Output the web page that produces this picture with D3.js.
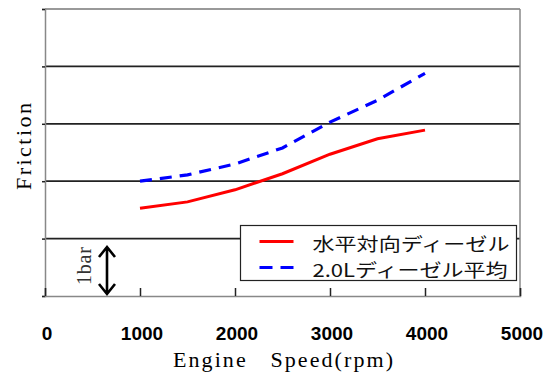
<!DOCTYPE html>
<html>
<head>
<meta charset="utf-8">
<script src="https://cdn.jsdelivr.net/npm/d3@7"></script>
<style>
  body { margin: 0; background: #fff; }
</style>
</head>
<body>
<div id="viz"></div>
<script>
const rpm = [1000, 1500, 2000, 2500, 3000, 3500, 4000];
const boxer = [1.53, 1.64, 1.85, 2.13, 2.47, 2.74, 2.89];
const avg20 = [2.0, 2.11, 2.30, 2.58, 3.03, 3.41, 3.88];
const xTicks = [0, 1000, 2000, 3000, 4000, 5000];
const yTicks = [0, 1, 2, 3, 4, 5];
const seriesNames = ["水平対向ディーゼル", "2.0Lディーゼル平均"];

const width = 551, height = 372;
const margin = {top: 9, right: 31, bottom: 76, left: 45};

const svg = d3.select("#viz")
  .append("svg")
  .attr("width", width)
  .attr("height", height);

const x = d3.scaleLinear().domain([0, 5000]).range([margin.left, width - margin.right]);
const y = d3.scaleLinear().domain([0, 5]).range([height - margin.bottom, margin.top]);

// grid lines
svg.append("g")
  .selectAll("line")
  .data(yTicks.slice(1, 5))
  .join("line")
  .attr("x1", x(0)).attr("x2", x(5000))
  .attr("y1", d => y(d)).attr("y2", d => y(d))
  .attr("stroke", "#222")
  .attr("stroke-width", 1.8);

// frame
svg.append("line").attr("x1", x(0)).attr("x2", x(5000)).attr("y1", y(5)).attr("y2", y(5))
  .attr("stroke", "#777").attr("stroke-width", 1.5);
svg.append("line").attr("x1", x(5000)).attr("x2", x(5000)).attr("y1", y(5)).attr("y2", y(0))
  .attr("stroke", "#888").attr("stroke-width", 1.5);

// y axis (no labels)
svg.append("g")
  .attr("transform", `translate(${x(0)},0)`)
  .call(d3.axisLeft(y).tickValues(yTicks).tickSize(3).tickFormat(""))
  .call(g => g.select(".domain").attr("stroke", "#888").attr("stroke-width", 1.5))
  .call(g => g.selectAll(".tick line").attr("stroke", "#222").attr("stroke-width", 1.5));

// x axis, ticks pointing up
svg.append("g")
  .attr("transform", `translate(0,${y(0)})`)
  .call(d3.axisTop(x).tickValues(xTicks).tickSize(8).tickFormat(""))
  .call(g => g.select(".domain").attr("stroke", "#888").attr("stroke-width", 1.5))
  .call(g => g.selectAll(".tick line").attr("stroke", "#222").attr("stroke-width", 1.5));

svg.append("g")
  .selectAll("text")
  .data(xTicks)
  .join("text")
  .attr("x", d => x(d) + 2)
  .attr("y", 340)
  .attr("text-anchor", "middle")
  .style("font", "bold 19px 'Liberation Sans', Arial, sans-serif")
  .text(d => d);

svg.append("text")
  .attr("x", 173)
  .attr("y", 367)
  .attr("textLength", 220)
  .attr("lengthAdjust", "spacing")
  .style("font", "22px 'Liberation Serif', 'DejaVu Serif', serif")
  .attr("xml:space", "preserve")
  .text("Engine   Speed(rpm)");

svg.append("text")
  .attr("transform", "translate(31,190) rotate(-90)")
  .attr("textLength", 87)
  .attr("lengthAdjust", "spacing")
  .style("font", "22px 'Liberation Serif', 'DejaVu Serif', serif")
  .text("Friction");

// lines
const line = d3.line().x((d, i) => x(rpm[i])).y(d => y(d));

svg.append("path")
  .datum(boxer)
  .attr("d", line)
  .attr("fill", "none")
  .attr("stroke", "#ff0000")
  .attr("stroke-width", 3);

svg.append("path")
  .datum(avg20)
  .attr("d", line)
  .attr("fill", "none")
  .attr("stroke", "#0000ff")
  .attr("stroke-width", 3.2)
  .attr("stroke-dasharray", "12,8");

// 1bar arrow
const ax = 107, aTop = 246, aBot = 295;
svg.append("path")
  .attr("d", `M${ax},${aTop + 1}V${aBot - 1}` +
    `M${ax - 8},${aTop + 11}L${ax},${aTop + 1}L${ax + 8},${aTop + 11}` +
    `M${ax - 8},${aBot - 11}L${ax},${aBot - 1}L${ax + 8},${aBot - 11}`)
  .attr("fill", "none")
  .attr("stroke", "#000")
  .attr("stroke-width", 2.6);

svg.append("text")
  .attr("transform", "translate(91,285) rotate(-90)")
  .attr("textLength", 38)
  .attr("lengthAdjust", "spacing")
  .style("font", "20px 'Liberation Serif', 'DejaVu Serif', serif")
  .attr("fill", "#333")
  .text("1bar");

// legend
const lg = svg.append("g").attr("transform", "translate(240.5,225.5)");
lg.append("rect")
  .attr("width", 276).attr("height", 55)
  .attr("fill", "#fff").attr("stroke", "#222").attr("stroke-width", 1.2);
const colors = ["#ff0000", "#0000ff"];
lg.selectAll("line")
  .data(seriesNames)
  .join("line")
  .attr("x1", 19).attr("x2", 53)
  .attr("y1", (d, i) => 16 + i * 26).attr("y2", (d, i) => 16 + i * 26)
  .attr("stroke", (d, i) => colors[i])
  .attr("stroke-width", 3)
  .attr("stroke-dasharray", (d, i) => i === 1 ? "13,8" : null);
lg.selectAll("text")
  .data(seriesNames)
  .join("text")
  .attr("x", 72)
  .attr("y", (d, i) => 25 + i * 26)
  .attr("textLength", (d, i) => i === 0 ? 197 : 195)
  .attr("lengthAdjust", "spacingAndGlyphs")
  .style("font", "18px 'Noto Sans CJK JP', sans-serif")
  .attr("fill", "#111")
  .text(d => d);
</script>
</body>
</html>
